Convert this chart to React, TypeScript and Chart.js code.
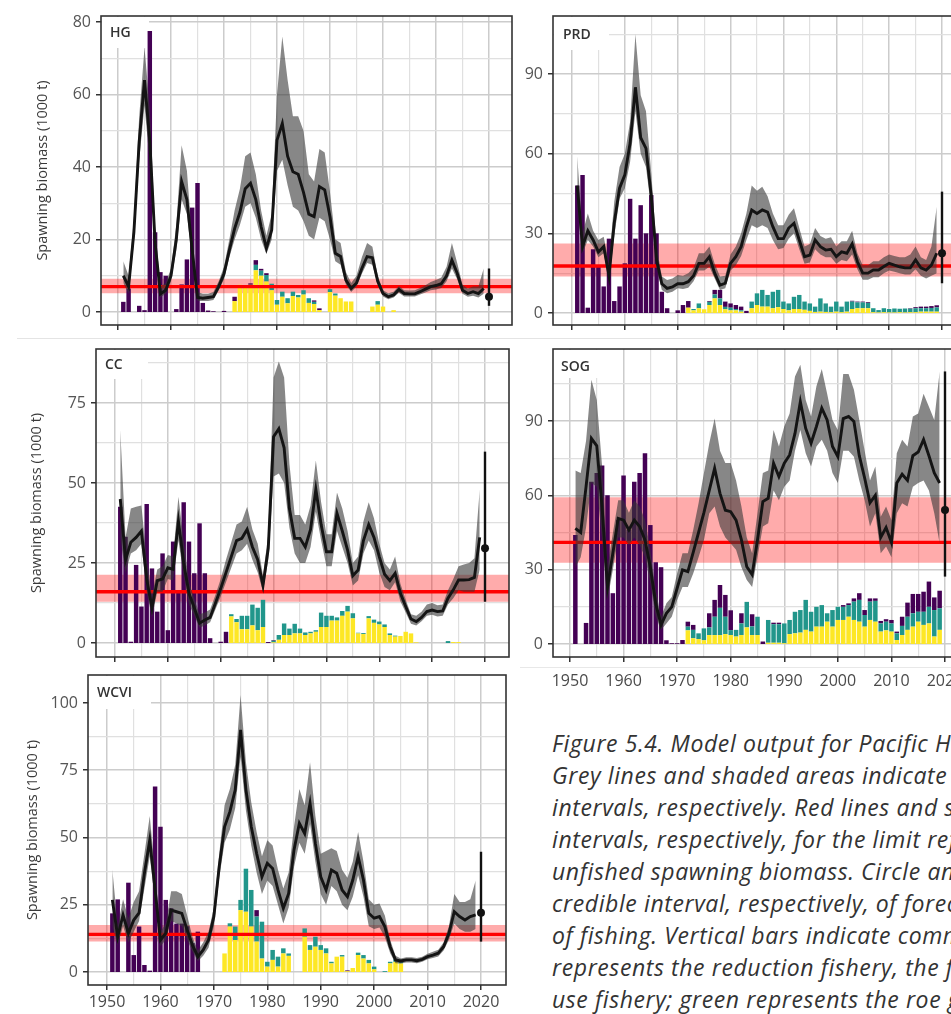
import React, { useEffect, useRef } from 'react';
import { Chart, registerables } from 'chart.js';

Chart.register(...registerables);

// ---------- categories ----------
const YEARS = Array.from({ length: 69 }, (_, i) => 1951 + i); // 1951..2019
const FORECAST_YEAR = 2020;
const X_TICKS = [1950, 1955, 1960, 1965, 1970, 1975, 1980, 1985, 1990, 1995, 2000, 2005, 2010, 2015, 2020];
const Y_TITLE = 'Spawning biomass (1000 t)';

// ---------- HG ----------
const HG_MED = [10, 7, 22, 47, 64, 47, 19, 5, 6,
  10, 20, 36, 31, 17, 4, 3.8, 4, 4.2, 7,
  10.5, 17, 23, 27.5, 34, 35.5, 31, 23.5, 17.6, 22.6,
  47.4, 52, 43, 38.7, 38, 33, 27, 26.3, 34.6, 33.7,
  26.3, 16.2, 15.3, 8.8, 6.5, 8, 12, 15.3, 15, 8.5,
  5.1, 4.2, 4.7, 6.2, 5.1, 5, 5, 5.6, 6.3, 7,
  7.3, 7.8, 10, 14.3, 10.7, 6, 5.1, 5.6, 5.1, 6.5];
const HG_LO = [8, 5, 19, 42, 57, 41, 16, 4, 5,
  8.5, 17, 31, 27, 14, 3, 3, 3, 3.3, 6,
  9, 15, 20, 24, 29, 30, 26, 20, 16, 20,
  39, 42, 35, 29, 28, 25, 21, 20, 26, 25,
  20, 14, 13, 7.5, 5.5, 7, 10.5, 13.5, 13, 7.5,
  4.3, 3.5, 4, 5.3, 4.3, 4.3, 4.3, 4.8, 5.4, 6,
  6.2, 6.6, 8.5, 12, 9, 5, 4.2, 4.5, 4, 5];
const HG_HI = [14, 10, 26, 54, 73, 56, 23, 7, 8,
  12, 24, 46, 39, 20, 5.5, 5, 5, 5.5, 8.5,
  12.5, 20, 28, 34, 43, 44, 38, 28, 21, 27,
  60, 76, 64, 54, 54, 50, 38, 36, 45, 44,
  33, 20, 19, 11, 8, 10, 15, 19, 18, 10,
  6, 5.2, 5.6, 7.2, 6, 5.9, 6, 6.6, 7.4, 8.3,
  8.8, 9.5, 12.5, 19, 13.5, 7.5, 6.5, 7, 7, 12];
const HG_PURPLE = [2.8, 6.5, 0, 1.7, 0.5, 77.5, 22, 11, 10,
  0, 0.8, 7.6, 14.5, 28.8, 35.6, 2.5, 0.4, 0.2, 0,
  0.3, 0, 1.2, 0, 0, 0.4, 1.3, 0.5, 0.5, 0,
  0, 0, 0, 0, 0, 0, 0, 0.4, 0.5, 0,
  0, 0, 0, 0, 0, 0, 0, 0, 0, 0,
  0, 0, 0, 0, 0, 0, 0, 0, 0, 0,
  0, 0, 0, 0, 0, 0, 0, 0, 0, 0];
const HG_YELLOW = [0, 0, 0, 0, 0, 0, 0, 0, 0,
  0, 0, 0, 0, 0, 0, 0, 0, 0, 0,
  0, 0, 3, 7.5, 7, 7.5, 11.5, 10, 8.4, 6,
  2, 4.2, 2.4, 4.4, 4, 4.8, 2.5, 2.2, 0.5, 0,
  5.5, 4.5, 3.8, 2.9, 2.9, 0, 0, 0, 1.5, 2,
  1.5, 0, 0.5, 0, 0, 0, 0, 0, 0, 0,
  0, 0, 0, 0, 0, 0, 0, 0, 0, 0];
const HG_TEAL = [0, 0, 0, 0, 0, 0, 0, 0, 0,
  0, 0, 0, 0, 0, 0, 0, 0, 0, 0,
  0, 0, 0, 0, 0, 0, 1.5, 1.4, 1.8, 1.8,
  1.3, 1.4, 1.4, 1.2, 0.7, 1.2, 1.3, 0.6, 0, 0,
  0.8, 0.6, 0, 0, 0, 0, 0, 0, 0, 1,
  0, 0, 0, 0, 0, 0, 0, 0, 0, 0,
  0, 0, 0, 0, 0, 0, 0, 0, 0, 0];
const HG_REF = [5.2, 7, 9.2];
const HG_FORECAST = [4.2, 1.7, 12];
const HG_Y_GRID = [0, 10, 20, 30, 40, 50, 60, 70, 80];
const HG_Y_LABELS = [0, 20, 40, 60, 80];

// ---------- PRD ----------
const PRD_MED = [48, 25, 31, 27.5, 23, 25, 14, 34, 47,
  52, 64, 85, 66, 62, 44, 20, 11, 9.3, 9.8,
  11, 11, 11.8, 14, 18.7, 18.7, 21.2, 15, 10.5, 11.2,
  18.7, 21.2, 25, 32.5, 38.8, 37.5, 38.8, 38, 32.5, 28,
  28, 32, 33.8, 27.5, 21.2, 21.8, 27.5, 25, 23.7, 24,
  21.2, 23, 22.5, 26, 19.3, 15, 15, 16.2, 16.2, 17.5,
  18.7, 18, 17.4, 17, 17, 20, 17, 16.2, 18, 22.5];
const PRD_LO = [40, 22.5, 27.5, 25, 21, 22.5, 12, 29, 43,
  47, 57, 76, 60, 55, 39, 17, 8.7, 7.4, 8,
  9.3, 9, 9.5, 12, 16, 16, 17.4, 13, 8.7, 9.3,
  16, 18, 21.5, 27.5, 33, 32, 33, 32, 27.5, 24,
  24.5, 28, 30, 24, 18.5, 19, 24, 22, 21, 21,
  18.5, 20, 19.5, 22, 16.5, 12.5, 12.5, 13.5, 13.5, 15,
  16, 15.5, 15, 14.5, 14.5, 16.5, 14, 13, 14, 15];
const PRD_HI = [59, 30, 37.5, 31, 27.5, 28.7, 18.7, 42, 55,
  60, 72, 105, 82, 76, 52.6, 25, 13.7, 12.4, 13,
  14.3, 14, 15, 17, 22.5, 22.5, 25, 18.5, 13.7, 14,
  22, 25, 30, 37.5, 48, 46, 47.5, 44, 37.5, 33,
  33, 37, 39.4, 32, 25, 26, 32, 29, 28, 28.5,
  25, 27, 27, 31, 22.5, 18, 18, 19.5, 19.5, 21,
  22, 21.5, 21, 21, 22, 25, 21, 20, 25, 40];
const PRD_PURPLE = [48, 52, 2, 24, 18, 10, 28, 4.5, 10,
  18.7, 43, 28, 40.6, 30, 44.4, 30, 8, 1.8, 0,
  1, 3, 2.5, 0, 0, 0, 0.3, 1.7, 3.2, 2,
  1.6, 1.5, 1.4, 0.8, 0, 0, 0, 0, 0, 0,
  0, 0, 0, 0, 0, 0, 0, 0, 0, 0,
  0, 0, 0, 0.3, 0.3, 0.3, 0.3, 0, 0, 0,
  0, 0, 0, 0, 0.2, 0.4, 0.6, 0.6, 0.7, 0.8];
const PRD_YELLOW = [0, 0, 0, 0, 0, 0, 0, 0, 0,
  0, 0, 0, 0, 0, 0, 0, 0, 0, 0,
  0, 0, 2, 1, 1.8, 1.4, 3, 5.5, 3, 1.4,
  1, 1, 0.5, 0, 1.8, 3, 2.4, 2.4, 1.8, 2.2,
  1.5, 1, 1.5, 1.5, 1.2, 0.8, 0.4, 0.5, 0.4, 0.3,
  0.5, 0.3, 0.5, 1.5, 1.8, 1.8, 1.8, 0.3, 0.2, 0.3,
  0.2, 0.2, 0.3, 0.2, 0.3, 0.3, 0.5, 0.5, 0.5, 0.5];
const PRD_TEAL = [0, 0, 0, 0, 0, 0, 0, 0, 0,
  0, 0, 0, 0, 0, 0, 0, 0, 0, 0,
  0, 0, 0, 0.5, 1.8, 0, 1.2, 1.5, 2.5, 0.9,
  1, 0.5, 0.5, 0, 2.5, 4.4, 6.3, 4.4, 6.2, 6.5,
  2.8, 2.6, 4.6, 5.3, 3.1, 2.8, 2, 5, 3.2, 2.1,
  3.8, 2.1, 3.8, 2.8, 2.2, 2.2, 2, 1.5, 0.9, 1.5,
  1.3, 1.5, 1.3, 1.5, 1.3, 1.5, 1.3, 1.3, 1.4, 1.6];
const PRD_REF = [13.7, 17.7, 26.2];
const PRD_FORECAST = [22.5, 11.2, 45.7];
const PRD_Y_GRID = [0, 15, 30, 45, 60, 75, 90, 105];
const PRD_Y_LABELS = [0, 30, 60, 90];

// ---------- CC ----------
const CC_MED = [45, 26, 31.5, 33, 35, 20, 11, 19.5, 20,
  23.5, 23, 38, 25, 15.5, 11, 6.2, 7.2, 8, 12.4,
  17, 22, 27, 32, 32.7, 35.5, 30, 26, 18, 29.6,
  64.5, 67, 61, 42, 32.7, 32.7, 30, 35.5, 48, 37,
  28.5, 28.5, 40.5, 35, 29, 21, 22.8, 32, 37, 33,
  27, 21.5, 19.5, 21.8, 15.5, 11.4, 7.5, 6.7, 8, 9.8,
  10.3, 9.8, 10, 14, 16.6, 19.7, 19.7, 19.8, 20.5, 33];
const CC_LO = [33, 21.8, 28, 29, 31, 16, 8, 16, 16,
  20, 19.5, 32, 21, 12, 8.5, 4.8, 5.5, 6.5, 10.5,
  14.5, 19, 23.5, 28, 29, 31, 26, 22, 16, 26,
  52, 53, 50, 36, 28, 25, 25, 30, 41, 32,
  24, 24, 35, 30, 25, 18, 19.5, 28, 32, 29,
  22, 17.5, 16.5, 19, 13, 9.5, 6, 5.5, 6.8, 8.5,
  8.8, 8.3, 8.5, 12, 14, 16.5, 16, 16, 16, 23];
const CC_HI = [66.6, 33, 42, 42.6, 43, 26, 15, 23, 24,
  27.5, 27, 45.7, 32, 19, 14, 9, 9.5, 10.5, 15,
  20, 26, 31.5, 37, 38, 42.6, 35.5, 31, 21, 34,
  83, 88, 83, 56, 40, 40, 37, 43, 57, 44,
  34, 34, 47, 42, 35, 25, 27, 38, 44, 39,
  31, 25, 23, 27, 18.5, 13.5, 9, 8.5, 9.8, 12,
  12.5, 11.8, 12, 16.5, 20, 24, 24.5, 25, 26.5, 48];
const CC_PURPLE = [42.6, 33.2, 0.4, 24.4, 11.4, 43.4, 23.3, 9.8, 28,
  4, 31.7, 15.7, 44, 31.7, 21.8, 37.4, 21.8, 1.5, 0,
  0.4, 3.5, 0, 0, 0, 0, 0, 0, 0, 0.3,
  0.2, 0, 0, 0, 0, 0, 0, 0, 0, 0,
  0, 0, 0, 0, 0, 0, 0, 0, 0, 0,
  0, 0, 0, 0, 0, 0, 0, 0, 0, 0,
  0, 0, 0, 0, 0, 0, 0, 0, 0, 0];
const CC_YELLOW = [0, 0, 0, 0, 0, 0, 0, 0, 0,
  0, 0, 0, 0, 0, 0, 0, 0, 0, 0,
  0, 0, 8.3, 6.5, 4.3, 4.3, 5.5, 4, 5, 0,
  0.2, 1, 2.5, 2.5, 3, 3, 2.5, 3, 3.5, 5,
  5, 7, 7, 8.5, 9.8, 7.7, 3, 2.8, 7.7, 6.3,
  5.8, 5, 2.5, 2, 2.2, 3.5, 3, 0.2, 0, 0,
  0, 0, 0, 0, 0.3, 0.3, 0, 0, 0, 0];
const CC_TEAL = [0, 0, 0, 0, 0, 0, 0, 0, 0,
  0, 0, 0, 0, 0, 0, 0, 0, 0, 0,
  0, 0, 0.7, 1, 4.2, 4.2, 6.5, 7, 8.5, 0,
  0.5, 1.5, 3.6, 2, 3, 1.5, 0.8, 0.5, 0.5, 4.5,
  3.5, 1.5, 1, 1.5, 1.8, 1.6, 0.2, 0.3, 0.7, 1,
  0.9, 0.8, 0.5, 0.3, 0, 0, 0, 0, 0, 0,
  0, 0, 0, 0.6, 0, 0, 0, 0, 0, 0];
const CC_REF = [12.9, 16, 21.3];
const CC_FORECAST = [29.6, 12.9, 59.8];
const CC_Y_GRID = [0, 12.5, 25, 37.5, 50, 62.5, 75, 87.5];
const CC_Y_LABELS = [0, 25, 50, 75];

// ---------- SOG ----------
const SOG_MED = [46.7, 45, 63.5, 83, 80, 55, 23, 36.6, 50.7,
  50, 46, 50, 47.4, 42, 31, 16.4, 7.7, 12.4, 15,
  22.5, 29.9, 29.2, 37, 45, 53, 62, 70.9, 60.8, 54,
  53.4, 50, 42, 31.2, 28, 42, 57.5, 58.8, 73, 67.6,
  73, 76.3, 85, 97.8, 87, 81, 87.8, 95.2, 90.4, 79.7,
  75.6, 91, 91.8, 89.8, 76, 67, 57, 60, 43, 47,
  41, 65, 68.5, 66, 76, 77.5, 82.5, 76, 69, 65];
const SOG_LO = [31, 35, 47, 65, 63.5, 42, 17.8, 30, 43,
  43, 40, 43, 40, 35, 24.5, 11, 5.6, 8.3, 11,
  17.8, 23, 23, 28.5, 35, 42, 52.8, 55.5, 47.4, 43,
  40.6, 38, 31, 25.8, 23, 35, 47.4, 48.7, 62, 58,
  63.5, 66, 78, 86.4, 77, 71.6, 79.7, 82.4, 78, 69,
  65, 78, 78, 75.6, 66, 58, 47.4, 52.8, 36.6, 39.3,
  35, 52.8, 56.8, 55.5, 63.5, 65, 66, 62, 52.8, 40.6];
const SOG_HI = [70, 69, 82, 106.6, 98.5, 71.6, 31, 44.7, 58,
  58, 53, 58, 55.5, 50, 38, 21.8, 11, 16.4, 19,
  28.5, 36.6, 36.6, 46, 56.8, 69, 81, 91, 78, 73,
  73, 66, 55.5, 43, 36.6, 52.8, 69, 70, 86.4, 79.7,
  87.8, 93, 108, 112.7, 98.5, 91.8, 104, 111, 101, 90.4,
  86.4, 109, 109, 102.6, 90.4, 78, 66, 71.6, 51.4, 55.5,
  50, 77, 82.4, 79.7, 91.8, 93, 101, 95.8, 90.4, 110];
const SOG_PURPLE = [44, 0, 8.5, 65.5, 69, 72, 60, 20.5, 50,
  68, 46, 65.5, 69, 77, 48, 33, 31, 1.5, 0.3,
  0.3, 1.6, 2, 2, 0, 0, 5.7, 6.8, 9.2, 8.8,
  8, 0, 4.1, 0, 4.9, 0, 1, 0, 0.6, 0.6,
  0, 0, 0, 0, 0, 0, 0, 0, 0, 0,
  0, 0.7, 0.7, 1.3, 2.7, 2, 1.3, 1, 1, 1,
  1.4, 0.7, 3.7, 5.7, 7.8, 7.2, 8.1, 10.2, 5.1, 7.1];
const SOG_YELLOW = [0, 0, 0, 0, 0, 0, 0, 0, 0,
  0, 0, 0, 0, 0, 0, 0, 0, 0, 0,
  0, 0, 5.5, 2.3, 2, 1.5, 3.6, 3.6, 3.6, 4,
  3.6, 3, 3.6, 6.7, 3.6, 3.6, 0, 0.5, 0.5, 0.5,
  0.3, 4, 4.3, 4.6, 5.7, 5, 7, 7, 9, 7,
  9.7, 9.7, 11, 9.7, 9, 7, 9.7, 9, 5, 5.5,
  5, 1.6, 3.6, 5.7, 7, 9, 7.7, 8.3, 3, 5.7];
const SOG_TEAL = [0, 0, 0, 0, 0, 0, 0, 0, 0,
  0, 0, 0, 0, 0, 0, 0, 0, 0, 0,
  0, 0, 1.5, 3.4, 2.3, 4.8, 3.1, 7.4, 11, 7,
  2, 2.7, 4.7, 10.3, 3.5, 7.4, 0, 9.2, 7.5, 7.5,
  8, 5.7, 8.7, 9.1, 12.1, 8, 8, 8.7, 3.4, 6.7,
  5.3, 5.3, 4.7, 7.4, 8.8, 4.7, 7.4, 8.4, 3.3, 3.5,
  3.3, 2.7, 3.7, 5.3, 5.4, 4, 5.3, 6.7, 10.7, 8.7];
const SOG_REF = [32.8, 41, 59.2];
const SOG_FORECAST = [54.1, 27.2, 110];
const SOG_Y_GRID = [0, 15, 30, 45, 60, 75, 90, 105];
const SOG_Y_LABELS = [0, 30, 60, 90];

// ---------- WCVI ----------
const WCVI_MED = [26.8, 13.1, 21.2, 14.4, 19.3, 22, 36.7, 49, 30.5,
  11.9, 14.4, 23, 22.4, 21.8, 15.6, 10, 5.7, 8.2, 11.9,
  20.6, 39.2, 54, 59.6, 67.7, 90, 67.7, 54, 44.1, 35.4,
  40.4, 38.5, 30.5, 23.7, 29.2, 45.4, 55.3, 51.5, 62.7, 47.8,
  35.4, 30.5, 37.9, 36.7, 30.5, 28, 34.2, 42.9, 34.2, 21.8,
  20, 20.6, 16.9, 9.4, 4.5, 4.1, 4.5, 4.5, 4.2, 4.7,
  5.7, 6.3, 7, 9.4, 14.4, 22.4, 20.6, 19.3, 20.6, 21.2];
const WCVI_LO = [17, 10, 17, 11, 15, 19, 31, 43, 26,
  9.5, 12, 19, 18, 17, 12, 7.5, 4, 6, 9,
  17, 35, 48, 53, 61, 80, 60, 47, 37, 29,
  34, 32, 25, 18, 24, 39, 48, 44, 55, 41,
  29, 25, 32, 30, 25, 23, 28, 36, 28, 17,
  16, 16.5, 13, 7, 3.3, 3.2, 3.5, 3.5, 3.3, 3.8,
  4.7, 5.2, 5.8, 8, 12, 18, 16, 15, 15, 16];
const WCVI_HI = [38, 17, 27, 20, 26, 30, 44, 58, 37,
  15, 18, 30, 30, 29, 21, 13, 8, 11, 15,
  24, 44, 62, 68, 77, 103, 78, 63, 52, 43,
  49, 47, 38, 31, 37, 54, 68, 62, 78, 58,
  44, 45, 46, 45, 38, 35, 41, 52, 41, 27,
  25, 25.5, 21, 12, 6, 5, 5.5, 5.5, 5.2, 5.7,
  6.8, 7.5, 8.3, 11, 17, 29, 26, 26, 27, 34];
const WCVI_PURPLE = [21.8, 27, 0, 33.2, 6.3, 16.9, 2.6, 0.5, 69,
  54, 26.8, 23.7, 18, 18, 17, 10.7, 15, 0, 0,
  0, 0, 0, 0, 0, 0, 0, 0, 2.4, 0,
  0, 0, 0, 0, 0, 0, 0, 0, 0, 0,
  0, 0, 0, 0, 0, 0.3, 0, 0, 0, 0,
  0, 0, 0, 0, 0, 0, 0, 0, 0, 0,
  0, 0, 0, 0, 0, 0, 0, 0, 0, 0];
const WCVI_YELLOW = [0, 0, 0, 0, 0, 0, 0, 0, 0,
  0, 0, 0, 0, 0, 0, 0, 0, 0, 0,
  0, 0, 6.9, 16.9, 11.9, 23, 22.4, 16.9, 11.3, 5,
  2, 4.5, 2, 6.9, 6, 0, 0, 13.1, 8.2, 9.4,
  8.2, 6.9, 3.2, 5.7, 5.7, 0.3, 1.5, 6.3, 5, 3.2,
  1, 0, 0, 3.2, 3.8, 3.2, 0, 0, 0, 0,
  0, 0, 0, 0, 0, 0, 0, 0, 0, 0];
const WCVI_TEAL = [0, 0, 0, 0, 0, 0, 0, 0, 0,
  0, 0, 0, 0, 0, 0, 0, 0, 0, 0,
  0, 0, 0, 1.2, 5, 3.8, 16, 13.6, 9.3, 13.7,
  1.8, 3.7, 3.7, 1.9, 0.9, 0, 0, 3.1, 1.8, 3.7,
  1.8, 1.9, 0.6, 0, 0.6, 0, 0, 0.9, 1.3, 1.3,
  1, 0, 0.3, 0.6, 0.9, 1.3, 0, 0, 0, 0,
  0, 0, 0, 0, 0, 0, 0, 0, 0, 0];
const WCVI_REF = [11.3, 14, 17.5];
const WCVI_FORECAST = [22, 11.3, 44.7];
const WCVI_Y_GRID = [0, 12.5, 25, 37.5, 50, 62.5, 75, 87.5, 100];
const WCVI_Y_LABELS = [0, 25, 50, 75, 100];

const CAPTION = [
  'Figure 5.4. Model output for Pacific Herring stock assessment regions.',
  'Grey lines and shaded areas indicate the median and 90% credible',
  'intervals, respectively. Red lines and shaded areas indicate the median and 90% credible',
  'intervals, respectively, for the limit reference point of 0.3 times the',
  'unfished spawning biomass. Circle and vertical line indicate the median and 90%',
  'credible interval, respectively, of forecast spawning biomass in 2020 in the absence',
  'of fishing. Vertical bars indicate commercial catch: purple',
  'represents the reduction fishery, the food and bait fishery, and the special',
  'use fishery; green represents the roe gillnet fishery; yellow represents the roe seine fishery.',
];

// ---------- styles ----------
const C_PURPLE = '#440154';
const C_TEAL = '#21968b';
const C_YELLOW = '#fde725';
const C_PINK = 'rgba(255,0,0,0.33)';
const C_RED = '#ff0000';
const C_GREY = 'rgba(55,55,55,0.6)';
const GRID_MAJOR = '#cccccc';
const GRID_MINOR = '#e0e0e0';
const FONT = '"Open Sans", "DejaVu Sans", sans-serif';

type Panel = {
  name: string;
  med: number[]; lo: number[]; hi: number[];
  purple: number[]; yellow: number[]; teal: number[];
  ref: number[]; forecast: number[];
  yGrid: number[]; yLabels: number[];
  yMin: number; yMax: number; xMin: number; xMax: number;
  box: { left: number; top: number; w: number; h: number; padL: number; padR: number; padT: number; padB: number; yW: number; xH: number; xPad: number };
  title: boolean; xLabels: boolean;
  tag: { w: number; h: number; x: number; y: number };
};

const PANELS: Panel[] = [
  {
    name: 'HG', med: HG_MED, lo: HG_LO, hi: HG_HI, purple: HG_PURPLE, yellow: HG_YELLOW, teal: HG_TEAL,
    ref: HG_REF, forecast: HG_FORECAST, yGrid: HG_Y_GRID, yLabels: HG_Y_LABELS,
    yMin: -3.59, yMax: 81.66, xMin: 1946.79, xMax: 2024.34,
    box: { left: 0, top: 0, w: 520, h: 340, padL: 34.6, padR: 8, padT: 16, padB: 7, yW: 66.4, xH: 8, xPad: 0 },
    title: true, xLabels: false, tag: { w: 47, h: 31, x: 9, y: 17 },
  },
  {
    name: 'PRD', med: PRD_MED, lo: PRD_LO, hi: PRD_HI, purple: PRD_PURPLE, yellow: PRD_YELLOW, teal: PRD_TEAL,
    ref: PRD_REF, forecast: PRD_FORECAST, yGrid: PRD_Y_GRID, yLabels: PRD_Y_LABELS,
    yMin: -4.52, yMax: 111.84, xMin: 1946.41, xMax: 2024.54,
    box: { left: 520, top: 0, w: 460, h: 340, padL: 0, padR: 14, padT: 16, padB: 7, yW: 33, xH: 8, xPad: 0 },
    title: false, xLabels: false, tag: { w: 55, h: 33, x: 10, y: 19 },
  },
  {
    name: 'CC', med: CC_MED, lo: CC_LO, hi: CC_HI, purple: CC_PURPLE, yellow: CC_YELLOW, teal: CC_TEAL,
    ref: CC_REF, forecast: CC_FORECAST, yGrid: CC_Y_GRID, yLabels: CC_Y_LABELS,
    yMin: -4.375, yMax: 91.875, xMin: 1946.41, xMax: 2024.54,
    box: { left: 0, top: 340, w: 520, h: 330, padL: 28.6, padR: 11, padT: 9, padB: 5, yW: 67.4, xH: 8, xPad: 0 },
    title: true, xLabels: false, tag: { w: 51, h: 29, x: 9, y: 16 },
  },
  {
    name: 'SOG', med: SOG_MED, lo: SOG_LO, hi: SOG_HI, purple: SOG_PURPLE, yellow: SOG_YELLOW, teal: SOG_TEAL,
    ref: SOG_REF, forecast: SOG_FORECAST, yGrid: SOG_Y_GRID, yLabels: SOG_Y_LABELS,
    yMin: -5.25, yMax: 119.06, xMin: 1946.83, xMax: 2023.92,
    box: { left: 520, top: 340, w: 460, h: 360, padL: 0, padR: 14, padT: 9, padB: 3, yW: 33, xH: 40, xPad: 10 },
    title: false, xLabels: true, tag: { w: 47, h: 28, x: 8, y: 18 },
  },
  {
    name: 'WCVI', med: WCVI_MED, lo: WCVI_LO, hi: WCVI_HI, purple: WCVI_PURPLE, yellow: WCVI_YELLOW, teal: WCVI_TEAL,
    ref: WCVI_REF, forecast: WCVI_FORECAST, yGrid: WCVI_Y_GRID, yLabels: WCVI_Y_LABELS,
    yMin: -4.83, yMax: 110.4, xMin: 1946.44, xMax: 2024.68,
    box: { left: 0, top: 670, w: 520, h: 344, padL: 24.6, padR: 14, padT: 5, padB: 0, yW: 63.4, xH: 29, xPad: 3 },
    title: true, xLabels: true, tag: { w: 62, h: 33, x: 9, y: 18 },
  },
];

const panelDecor = {
  id: 'panelDecor',
  beforeDatasetsDraw(chart: any, _a: any, opts: any) {
    const { ctx, chartArea: a } = chart;
    ctx.save();
    ctx.fillStyle = '#ffffff';
    ctx.fillRect(a.left + 1, a.top + 1, opts.w, opts.h);
    ctx.restore();
  },
  afterDraw(chart: any, _a: any, opts: any) {
    const { ctx, chartArea: a } = chart;
    ctx.save();
    ctx.font = `600 14px ${FONT}`;
    ctx.fillStyle = '#333333';
    ctx.textBaseline = 'middle';
    ctx.textAlign = 'left';
    ctx.fillText(opts.label, a.left + opts.x, a.top + opts.y);
    ctx.strokeStyle = '#333333';
    ctx.lineWidth = 1.6;
    ctx.strokeRect(a.left, a.top, a.right - a.left, a.bottom - a.top);
    ctx.restore();
  },
};

function PanelChart({ p }: { p: Panel }) {
  const ref = useRef<HTMLCanvasElement>(null);
  useEffect(() => {
    const b = p.box;
    const pts = (arr: number[]) => YEARS.map((x, i) => ({ x, y: arr[i] }));
    const flat = (v: number) => [{ x: p.xMin, y: v }, { x: p.xMax, y: v }];
    const barDs = (label: string, arr: number[], color: string) => ({
      type: 'bar', label, data: pts(arr), backgroundColor: color, yAxisID: 'yb', stack: 'catch',
      order: 20, categoryPercentage: 1, barPercentage: 0.84, borderWidth: 0,
    });
    const lineBase = { type: 'line', yAxisID: 'y', pointRadius: 0, tension: 0, borderColor: 'rgba(0,0,0,0)', borderWidth: 1 };
    const isMajorY = (v: number) => p.yLabels.includes(v);
    const isDecade = (v: number) => v % 10 === 0;
    const chart = new Chart(ref.current as HTMLCanvasElement, {
      type: 'line',
      data: {
        datasets: [
          barDs('Roe seine', p.yellow, C_YELLOW),
          barDs('Roe gillnet', p.teal, C_TEAL),
          barDs('Reduction, food and bait, special use', p.purple, C_PURPLE),
          { ...lineBase, label: 'ref hi', data: flat(p.ref[2]), fill: false, order: 30 },
          { ...lineBase, label: 'ref lo', data: flat(p.ref[0]), fill: '-1', backgroundColor: C_PINK, order: 30 },
          { ...lineBase, label: 'ref', data: flat(p.ref[1]), fill: false, borderColor: C_RED, borderWidth: 3.4, order: 7 },
          { ...lineBase, label: 'hi', data: pts(p.hi), fill: false, order: 6 },
          { ...lineBase, label: 'lo', data: pts(p.lo), fill: '-1', backgroundColor: C_GREY, order: 6 },
          { ...lineBase, label: 'median', data: pts(p.med), fill: false, borderColor: '#141414', borderWidth: 2.9, order: 5 },
          { ...lineBase, label: 'forecast interval', data: [{ x: FORECAST_YEAR, y: p.forecast[1] }, { x: FORECAST_YEAR, y: p.forecast[2] }], fill: false, borderColor: '#111', borderWidth: 2.4, order: 4 },
          { ...lineBase, label: 'forecast', data: [{ x: FORECAST_YEAR, y: p.forecast[0] }], showLine: false, pointRadius: 4, pointBackgroundColor: '#111', pointBorderWidth: 0, order: 3 },
        ] as any,
      },
      options: {
        responsive: false,
        animation: false,
        devicePixelRatio: 1,
        events: [],
        layout: { padding: { left: b.padL, right: b.padR, top: b.padT, bottom: b.padB }, autoPadding: false },
        plugins: {
          legend: { display: false },
          tooltip: { enabled: false },
          panelDecor: { label: p.name, w: p.tag.w, h: p.tag.h, x: p.tag.x, y: p.tag.y },
        } as any,
        scales: {
          x: {
            type: 'linear', min: p.xMin, max: p.xMax, offset: false,
            afterBuildTicks: (s: any) => { s.ticks = X_TICKS.map((v) => ({ value: v })); },
            afterFit: (s: any) => { s.height = b.xH; s.paddingLeft = 0; s.paddingRight = 0; s.paddingTop = 0; s.paddingBottom = 0; },
            border: { display: false },
            grid: {
              offset: false,
              color: (c: any) => (c.tick && isDecade(c.tick.value) ? GRID_MAJOR : GRID_MINOR),
              lineWidth: (c: any) => (c.tick && isDecade(c.tick.value) ? 1.5 : 1.2),
              tickLength: 5,
              tickWidth: 1.5,
              tickColor: (c: any) => (c.tick && isDecade(c.tick.value) ? '#333333' : 'rgba(0,0,0,0)'),
            },
            ticks: {
              autoSkip: false, maxRotation: 0, minRotation: 0, padding: b.xPad,
              color: '#4a4a4a', font: { family: FONT, size: 16 },
              callback: (v: any) => (p.xLabels && isDecade(Number(v)) ? String(v) : ''),
            },
          },
          y: {
            type: 'linear', position: 'left', min: p.yMin, max: p.yMax,
            afterBuildTicks: (s: any) => { s.ticks = p.yGrid.map((v) => ({ value: v })); },
            afterFit: (s: any) => { s.width = b.yW; s.paddingLeft = 0; s.paddingRight = 0; s.paddingTop = 0; s.paddingBottom = 0; },
            border: { display: false },
            grid: {
              color: (c: any) => (c.tick && isMajorY(c.tick.value) ? GRID_MAJOR : GRID_MINOR),
              lineWidth: (c: any) => (c.tick && isMajorY(c.tick.value) ? 1.5 : 1.2),
              tickLength: 5,
              tickWidth: 1.5,
              tickColor: (c: any) => (c.tick && isMajorY(c.tick.value) ? '#333333' : 'rgba(0,0,0,0)'),
            },
            ticks: {
              autoSkip: false, padding: 5, color: '#555555', font: { family: FONT, size: 16 },
              callback: (v: any) => (isMajorY(Number(v)) ? String(v) : ''),
            },
            title: {
              display: p.title, text: Y_TITLE, color: '#3a3a3a',
              font: { family: FONT, size: 14.5 }, padding: { top: 0, bottom: 0 },
            },
          },
          yb: {
            type: 'linear', display: false, stacked: true, min: p.yMin, max: p.yMax,
          },
        } as any,
      },
      plugins: [panelDecor as any],
    });
    return () => chart.destroy();
  }, [p]);
  const b = p.box;
  return (
    <canvas
      ref={ref}
      width={b.w}
      height={b.h}
      style={{ position: 'absolute', left: b.left, top: b.top, width: b.w, height: b.h }}
    />
  );
}

export default function App() {
  return (
    <div style={{ position: 'fixed', left: 0, top: 0, width: 951, height: 1014, overflow: 'hidden', background: '#fff' }}>
      <div style={{ position: 'absolute', left: 17, top: 338, width: 934, height: 1, background: '#e4e4e4' }} />
      <div style={{ position: 'absolute', left: 520, top: 667, width: 431, height: 1, background: '#e8e8e8' }} />
      {PANELS.map((p) => (
        <PanelChart key={p.name} p={p} />
      ))}
      <div
        style={{
          position: 'absolute', left: 552, top: 727, width: 900,
          fontFamily: '"Open Sans", "Noto Sans", sans-serif', fontStyle: 'italic', fontSize: 23,
          letterSpacing: '0.6px', lineHeight: '32px', color: '#333', whiteSpace: 'nowrap',
        }}
      >
        {CAPTION.map((t, i) => (
          <div key={i}>{t}</div>
        ))}
      </div>
    </div>
  );
}
